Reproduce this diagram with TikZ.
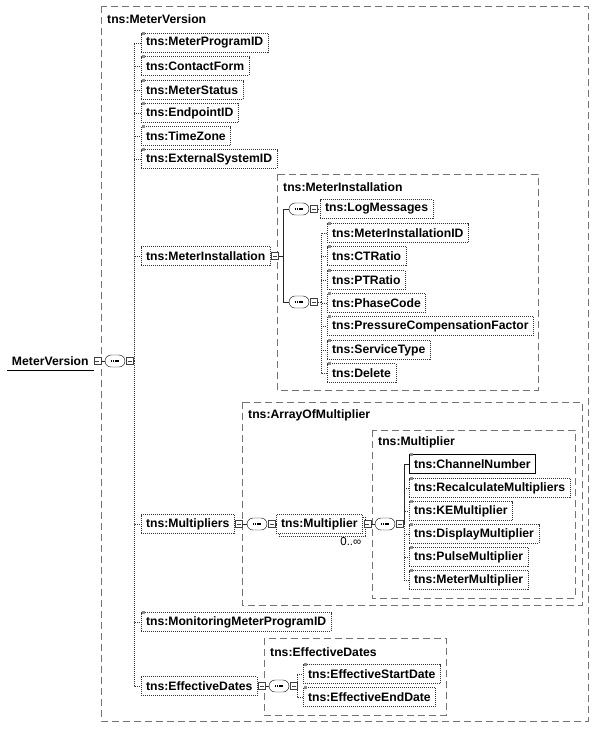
\documentclass[tikz,border=0pt]{standalone}
\usepackage{fontspec}
\setsansfont{Liberation Sans}
\usepackage{tikz}
\usetikzlibrary{positioning,shadows}
\tikzset{
  %Define fine dotted pattern
  dots/.style={dash pattern=on 1pt off 1pt},
  %Define style for element boxes
  elem/.style={
    rectangle,
    draw=black!80, dots,
    font=\sffamily\bfseries\fontsize{12.2}{14}\selectfont,
    inner xsep=4.8pt,
    minimum height=19pt,
    anchor=west},
  % small mark of an optional element
  opt/.style={
    append after command={
      node[fill=black!45,inner sep=0pt,minimum size=3pt] at ([xshift=2pt]\tikzlastnode.north west) {}}},
  % repeated element
  mult/.style={
    fill=white,
    general shadow={shadow xshift=2.5pt,shadow yshift=-2.5pt,draw=black!80,dots,fill=white}},
  % Define style for group boxes
  grp/.style={draw=black!55, dash pattern=on 7pt off 4pt},
  grptitle/.style={
    font=\sffamily\bfseries\fontsize{12.2}{14}\selectfont,
    anchor=west, inner sep=0pt},
  % expand box
  pm/.style={
    rectangle, draw=black!75, fill=white,
    inner sep=0pt, minimum size=7pt,
    path picture={\draw ([xshift=1.5pt]path picture bounding box.west) -- ([xshift=-1.5pt]path picture bounding box.east);}},
  % sequence compositor
  seq/.style={
    rectangle, rounded corners=6pt,
    draw=black, fill=white,
    minimum width=20pt, minimum height=12pt, inner sep=0pt,
    path picture={\draw[line width=1.3pt,dash pattern=on 1.4pt off 0.9pt] ([xshift=-4.5pt]path picture bounding box.center) -- ([xshift=4.5pt]path picture bounding box.center);}},
  % Define connector styles
  tree/.style={draw=black!85},
  dtree/.style={draw=black!80, dots}
}

\begin{document}
\begin{tikzpicture}[x=1pt,y=-1pt]
  \useasboundingbox (0,0) rectangle (597,732);
  % group boxes
  \draw[grp] (101,6) rectangle (588,721);
  \node[grptitle] (t-mv) at (107,19) {tns:MeterVersion};
  \draw[grp] (277,174) rectangle (538,390);
  \node[grptitle] (t-mi) at (283,187) {tns:MeterInstallation};
  \draw[grp] (242,402) rectangle (582,605);
  \node[grptitle] (t-am) at (248,415) {tns:ArrayOfMultiplier};
  \draw[grp] (372,430) rectangle (575,598);
  \node[grptitle] (t-mu) at (378,442) {tns:Multiplier};
  \draw[grp] (264,638) rectangle (446,715);
  \node[grptitle] (t-ed) at (270,652) {tns:EffectiveDates};

  % root element
  \node[elem,draw=none] (root) at (7,361) {MeterVersion};
  \draw[line width=1pt] (root.south west) -- (root.south east);
  \node[pm,right=0pt of root] (root-x) {};
  \node[seq] (seq0) at (115,361) {};
  \node[pm,right=1pt of seq0] (seq0-x) {};
  \coordinate (sp0) at (134,361);

  % children of MeterVersion
  \node[elem,opt] (progid) at (141,43) {tns:MeterProgramID};
  \node[elem,opt] (contact) at (141,66) {tns:ContactForm};
  \node[elem,opt] (status) at (141,90) {tns:MeterStatus};
  \node[elem,opt] (endpoint) at (141,113) {tns:EndpointID};
  \node[elem,opt] (tzone) at (141,136) {tns:TimeZone};
  \node[elem,opt] (extsys) at (141,159) {tns:ExternalSystemID};
  \node[elem] (install) at (141,256) {tns:MeterInstallation};
  \node[pm,right=1pt of install] (install-x) {};
  \node[elem] (mults) at (141,524) {tns:Multipliers};
  \node[pm,right=1pt of mults] (mults-x) {};
  \node[elem,opt] (monitor) at (141,622) {tns:MonitoringMeterProgramID};
  \node[elem] (effdates) at (141,686) {tns:EffectiveDates};
  \node[pm,right=1pt of effdates] (effdates-x) {};

  \draw[tree] (root-x) -- (seq0);
  \draw[dtree] (seq0-x) -- (sp0);
  \foreach \c in {progid,contact,status,endpoint,tzone,extsys,install,mults,monitor,effdates}
    \draw[dtree] (sp0) |- (\c.west);

  % MeterInstallation
  \coordinate (sp1) at (283,256);
  \node[seq] (seq1) at (299,209) {};
  \node[pm,right=1pt of seq1] (seq1-x) {};
  \node[elem] (logmsg) at (320,209) {tns:LogMessages};
  \node[seq] (seq2) at (299,302) {};
  \node[pm,right=1pt of seq2] (seq2-x) {};
  \coordinate (sp2) at (321,302);
  \node[elem,opt] (instid) at (327,233) {tns:MeterInstallationID};
  \node[elem,opt] (ctratio) at (327,256) {tns:CTRatio};
  \node[elem,opt] (ptratio) at (327,280) {tns:PTRatio};
  \node[elem,opt] (phase) at (327,303) {tns:PhaseCode};
  \node[elem,opt] (pressure) at (327,326) {tns:PressureCompensationFactor};
  \node[elem,opt] (service) at (327,350) {tns:ServiceType};
  \node[elem,opt] (delete) at (327,373) {tns:Delete};

  \draw[tree] (install-x) -- (sp1);
  \draw[tree] (sp1) |- (seq1);
  \draw[tree] (sp1) |- (seq2);
  \draw[dtree] (seq1-x) -- (logmsg);
  \draw[dtree] (seq2-x) -- (sp2);
  \foreach \c in {instid,ctratio,ptratio,phase,pressure,service,delete}
    \draw[dtree] (sp2) |- (\c.west);

  % Multipliers
  \node[seq] (seq3) at (257,524) {};
  \node[pm,right=1pt of seq3] (seq3-x) {};
  \node[elem,mult] (mult) at (276,524) {tns:Multiplier};
  \node[pm,right=1pt of mult] (mult-x) {};
  \node[font=\sffamily\fontsize{11.5}{13}\selectfont,anchor=north east,inner sep=1pt] (mult-occ) at ([yshift=-3pt]mult.south east) {0..∞};
  \node[seq] (seq4) at (385,524) {};
  \node[pm,right=1pt of seq4] (seq4-x) {};
  \coordinate (sp4) at (404,524);
  \node[elem,opt,solid,draw=black] (chan) at (409,464) {tns:ChannelNumber};
  \node[elem,opt] (recalc) at (409,488) {tns:RecalculateMultipliers};
  \node[elem,opt] (kemult) at (409,511) {tns:KEMultiplier};
  \node[elem,opt] (dispmult) at (409,534) {tns:DisplayMultiplier};
  \node[elem,opt] (pulsemult) at (409,557) {tns:PulseMultiplier};
  \node[elem,opt] (metermult) at (409,580) {tns:MeterMultiplier};

  \draw[tree] (mults-x) -- (seq3);
  \draw[dtree] (seq3-x) -- (mult);
  \draw[tree] (mult-x) -- (seq4);
  \draw[tree] (seq4-x) -- (sp4);
  \draw[tree] (sp4) |- (chan.west);
  \foreach \c in {recalc,kemult,dispmult,pulsemult,metermult}
    \draw[dtree] (sp4) |- (\c.west);

  % EffectiveDates
  \node[seq] (seq5) at (279,686) {};
  \node[pm,right=1pt of seq5] (seq5-x) {};
  \coordinate (sp5) at (297,686);
  \node[elem,opt] (effstart) at (303,674) {tns:EffectiveStartDate};
  \node[elem,opt] (effend) at (303,697) {tns:EffectiveEndDate};

  \draw[tree] (effdates-x) -- (seq5);
  \draw[dtree] (seq5-x) -- (sp5);
  \foreach \c in {effstart,effend}
    \draw[dtree] (sp5) |- (\c.west);
\end{tikzpicture}
\end{document}
